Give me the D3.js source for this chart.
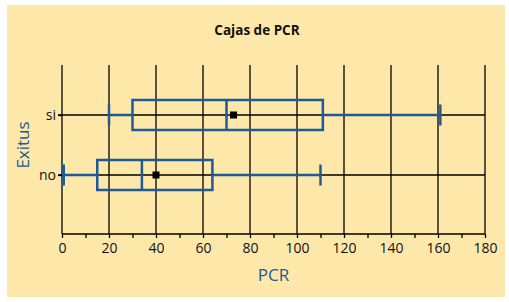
<!DOCTYPE html>
<html><head><meta charset="utf-8">
<script src="https://cdn.jsdelivr.net/npm/d3@7"></script>
<style>body{margin:0;background:#fff}svg{display:block}</style>
</head><body>
<script>
const categories = ["si", "no"];
const whiskerLow = [20, 0];
const q1 = [30, 15];
const median = [70, 34];
const q3 = [111, 64];
const whiskerHigh = [161, 110];
const means = [73, 40];
const xTicks = [0, 20, 40, 60, 80, 100, 120, 140, 160, 180];
const xMinor = d3.range(0, 181, 10);

const W = 509, H = 302;
const svg = d3.select("body").append("svg").attr("width", W).attr("height", H);
svg.append("rect").attr("x", 7).attr("y", 5).attr("width", 498).attr("height", 292).attr("fill", "#FEE8A9");

const x = d3.scaleLinear().domain([0, 180]).range([62, 485]);
const y = d3.scalePoint().domain(categories).range([115, 175]);
const plotTop = 65, plotBottom = 234;
const blue = "#1F5A96";
const font = "'Open Sans', 'DejaVu Sans', sans-serif";

svg.append("text").attr("x", 257).attr("y", 35).attr("text-anchor", "middle")
  .attr("font-family", font).attr("font-weight", "bold").attr("font-size", 13.5).attr("fill", "#111").text("Cajas de PCR");

// vertical gridlines
svg.append("g").selectAll("line").data(xTicks).join("line")
  .attr("x1", d => x(d)).attr("x2", d => x(d)).attr("y1", plotTop).attr("y2", plotBottom)
  .attr("stroke", "#000").attr("stroke-width", 1.3);

// horizontal category lines
svg.append("g").selectAll("line").data(categories).join("line")
  .attr("x1", 58).attr("x2", x(180)).attr("y1", d => y(d)).attr("y2", d => y(d))
  .attr("stroke", "#000").attr("stroke-width", 1.3);

// x axis
const xAxis = d3.axisBottom(x).tickValues(xMinor).tickSize(4).tickFormat(d => xTicks.includes(d) ? d : "");
const gx = svg.append("g").attr("transform", `translate(0,${plotBottom})`).call(xAxis);
gx.select(".domain").attr("stroke", "#000").attr("stroke-width", 1.6).attr("d", `M${x(0)},0H${x(180)}`);
gx.selectAll(".tick line").attr("stroke", "#000").attr("stroke-width", 1.3);
gx.selectAll(".tick text").attr("font-family", font).attr("font-size", 14).attr("fill", "#111").attr("dy", "0.85em");

// y axis labels
const yAxis = d3.axisLeft(y).tickSize(4).tickPadding(2);
const gy = svg.append("g").attr("transform", `translate(${x(0)},0)`).call(yAxis);
gy.select(".domain").remove();
gy.selectAll(".tick line").attr("stroke", "#000").attr("stroke-width", 1.3);
gy.selectAll(".tick text").attr("font-family", font).attr("font-size", 14).attr("fill", "#111");

// axis titles
svg.append("text").attr("x", x(90)).attr("y", 281).attr("text-anchor", "middle")
  .attr("font-family", font).attr("font-size", 17).attr("fill", blue).text("PCR");
svg.append("text").attr("transform", `translate(29,145) rotate(-90)`).attr("text-anchor", "middle")
  .attr("font-family", font).attr("font-size", 17).attr("fill", blue).text("Exitus");

const boxH = 30, capH = 21;
const g = svg.append("g");
categories.forEach((c, i) => {
  const cy = y(c);
  // whiskers
  g.append("line").attr("x1", x(whiskerLow[i])).attr("x2", x(q1[i])).attr("y1", cy).attr("y2", cy)
    .attr("stroke", blue).attr("stroke-width", 2.5);
  g.append("line").attr("x1", x(q3[i])).attr("x2", x(whiskerHigh[i])).attr("y1", cy).attr("y2", cy)
    .attr("stroke", blue).attr("stroke-width", 2.5);
  [whiskerLow[i], whiskerHigh[i]].forEach(v => {
    g.append("line").attr("x1", x(v) + (v === 0 ? 1.5 : 0)).attr("x2", x(v) + (v === 0 ? 1.5 : 0))
      .attr("y1", cy - capH / 2).attr("y2", cy + capH / 2)
      .attr("stroke", blue).attr("stroke-width", v === 0 ? 3 : 2.5);
  });
  // box
  g.append("rect").attr("x", x(q1[i])).attr("y", cy - boxH / 2).attr("width", x(q3[i]) - x(q1[i])).attr("height", boxH)
    .attr("fill", "none").attr("stroke", blue).attr("stroke-width", 2.5);
  g.append("line").attr("x1", x(median[i])).attr("x2", x(median[i])).attr("y1", cy - boxH / 2).attr("y2", cy + boxH / 2)
    .attr("stroke", blue).attr("stroke-width", 2.5);
  // mean
  g.append("rect").attr("x", x(means[i]) - 3.5).attr("y", cy - 3.5).attr("width", 7).attr("height", 7).attr("fill", "#000");
});
</script>
</body></html>
